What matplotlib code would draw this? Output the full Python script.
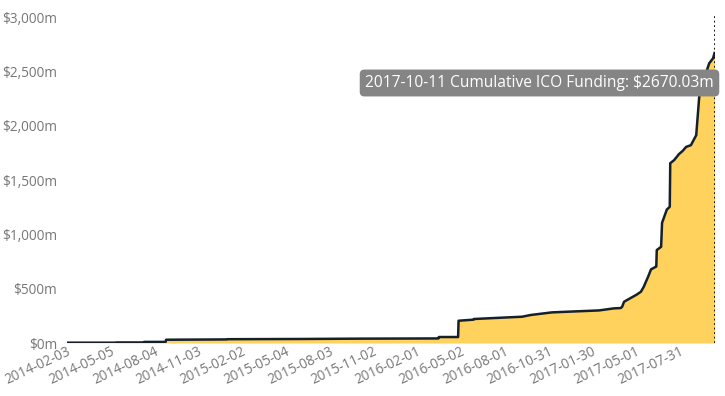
import numpy as np
import pandas as pd
import matplotlib
matplotlib.use('Agg')
import matplotlib.pyplot as plt
import matplotlib.dates as mdates
from matplotlib.ticker import FuncFormatter, MultipleLocator

# cumulative ICO funding ($m)
dates = ['2014-02-03', '2014-05-15', '2014-05-16', '2014-07-12', '2014-07-13',
         '2014-08-27', '2014-08-28', '2015-01-01', '2015-01-02', '2015-06-01',
         '2015-10-03', '2016-03-16', '2016-03-17', '2016-04-26', '2016-04-27',
         '2016-05-28', '2016-05-29', '2016-07-20', '2016-09-06', '2016-09-24',
         '2016-11-07', '2016-12-20', '2017-02-13', '2017-03-16', '2017-03-30',
         '2017-04-02', '2017-04-06', '2017-04-14', '2017-04-22', '2017-05-02',
         '2017-05-11', '2017-05-17', '2017-05-22', '2017-05-26', '2017-06-01',
         '2017-06-11', '2017-06-12', '2017-06-13', '2017-06-22', '2017-06-24',
         '2017-07-04', '2017-07-10', '2017-07-11', '2017-07-19', '2017-07-29',
         '2017-08-06', '2017-08-13', '2017-08-23', '2017-09-03', '2017-09-09',
         '2017-09-13', '2017-09-21', '2017-09-30', '2017-10-08', '2017-10-11']
funding = [3, 3, 5, 5, 10,
           10, 30, 33, 35, 37,
           40, 42, 55, 55, 205,
           215, 221, 232, 242, 258,
           282, 290, 300, 319, 322,
           334, 380, 400, 420, 445,
           472, 518, 570, 610, 678,
           702, 705, 856, 886, 1107,
           1230, 1254, 1656, 1684, 1739,
           1770, 1806, 1822, 1914, 2254,
           2429, 2456, 2576, 2622, 2670.03]

tick_dates = pd.date_range('2014-02-03', '2017-07-31', freq='91D')
last_date = '2017-10-11'
last_value = 2670.03

x = pd.to_datetime(dates)

fig = plt.figure(figsize=(7.25, 3.96), dpi=100)
ax = fig.add_axes([67 / 725, 1 - 343 / 396, (714.5 - 67) / 725, (343 - 14) / 396])

ax.fill_between(x, funding, color='#fed25c', linewidth=0)
ax.plot(x, funding, color='#15202b', linewidth=1.8)

ax.set_xlim(x[0], pd.Timestamp(last_date))
ax.set_ylim(0, 3030)

# hover line at the last date
ax.axvline(pd.Timestamp(last_date), color='black', linestyle=(0, (1, 1.5)), linewidth=1.3)

ax.yaxis.set_major_locator(MultipleLocator(500))
ax.yaxis.set_major_formatter(FuncFormatter(lambda v, p: '${:,.0f}m'.format(v)))
ax.set_xticks(tick_dates)
ax.xaxis.set_major_formatter(mdates.DateFormatter('%Y-%m-%d'))

for s in ax.spines.values():
    s.set_visible(False)
ax.tick_params(length=0, colors='#777777', labelsize=9.8)
ax.tick_params(axis='y', pad=7)
ax.tick_params(axis='x', pad=1)
for lab in ax.get_xticklabels():
    lab.set_rotation(25)
    lab.set_ha('right')
    lab.set_rotation_mode('anchor')
    lab.set_family('Open Sans')
for lab in ax.get_yticklabels():
    lab.set_family('Open Sans')

# tooltip
fig.text(539.5 / 725, 1 - 83 / 396,
         '{} Cumulative ICO Funding: ${:.2f}m'.format(last_date, last_value),
         ha='center', va='center', color='white', fontsize=11.2, family='Open Sans',
         bbox=dict(boxstyle='round,pad=0.35,rounding_size=0.3', fc='#858585', ec='none'))

fig.savefig('out.png', dpi=100)
